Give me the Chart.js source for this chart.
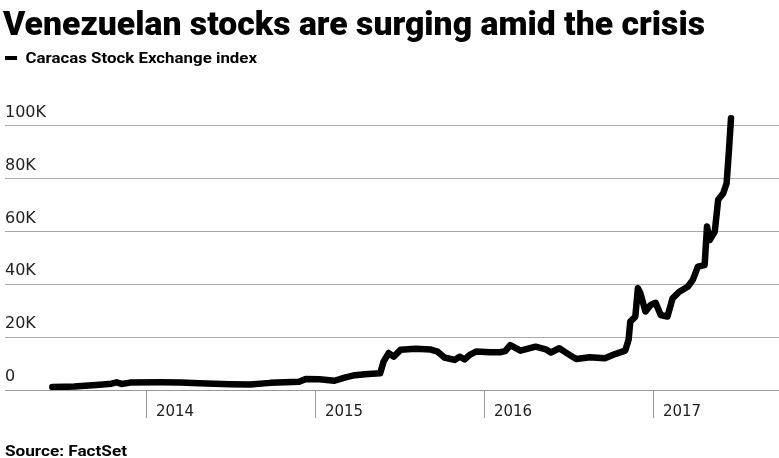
<!DOCTYPE html>
<html>
<head>
<meta charset="utf-8">
<script src="https://cdn.jsdelivr.net/npm/chart.js@4/dist/chart.umd.min.js"></script>
<style>
  html, body { margin: 0; padding: 0; background: #fff; }
  #wrap { position: relative; width: 779px; height: 458px; overflow: hidden; }
  #chart { position: absolute; left: 0; top: 0; }
  .txt { position: absolute; white-space: nowrap; color: #000; transform-origin: 0 50%; }
  #title { left: 3px; top: 3px; font: 900 34px Roboto, "Liberation Sans", sans-serif; line-height: 40px; }
  #legend { left: 5px; top: 49px; font: 700 14px Roboto, "Liberation Sans", sans-serif; line-height: 18px; }
  #legend i { display: inline-block; width: 10px; height: 4px; background: #000; vertical-align: middle; margin-right: 7px; position: relative; top: -1px; }
  #source { left: 5px; top: 442px; font: 700 14px Roboto, "Liberation Sans", sans-serif; line-height: 18px; }
</style>
</head>
<body>
<div id="wrap">
  <canvas id="chart" width="779" height="458"></canvas>
  <div class="txt" id="title">Venezuelan stocks are surging amid the crisis</div>
  <div class="txt" id="legend"><i></i>Caracas Stock Exchange index</div>
  <div class="txt" id="source">Source: FactSet</div>
</div>
<script>
// index level (decimal years)
const dates = [
  2013.44, 2013.57, 2013.72, 2013.79, 2013.82, 2013.85, 2013.90, 2014.08, 2014.20, 2014.31,
  2014.49, 2014.61, 2014.73, 2014.90, 2014.94, 2015.02, 2015.11, 2015.17, 2015.23, 2015.29,
  2015.38, 2015.40, 2015.43, 2015.46, 2015.50, 2015.59, 2015.68, 2015.72, 2015.76, 2015.82,
  2015.85, 2015.88, 2015.91, 2015.95, 2016.03, 2016.09, 2016.12, 2016.15, 2016.21, 2016.30,
  2016.36, 2016.39, 2016.44, 2016.50, 2016.54, 2016.62, 2016.71, 2016.77, 2016.83, 2016.85,
  2016.86, 2016.89, 2016.905, 2016.92, 2016.95, 2016.98, 2017.01, 2017.04, 2017.08, 2017.11,
  2017.15, 2017.20, 2017.23, 2017.26, 2017.30, 2017.314, 2017.33, 2017.36, 2017.38, 2017.41,
  2017.43, 2017.444, 2017.456
];
const values = [
  1100, 1300, 2000, 2400, 2900, 2300, 2800, 2900, 2800, 2600,
  2200, 2100, 2700, 3100, 4200, 4100, 3500, 4700, 5600, 6000,
  6300, 10700, 14000, 12600, 15200, 15600, 15300, 14500, 12300, 11400,
  12600, 11600, 13300, 14600, 14300, 14300, 14700, 17000, 14900, 16400,
  15400, 14200, 15800, 13300, 11700, 12400, 12000, 13600, 14900, 19000,
  25900, 27800, 38500, 36600, 29700, 32200, 33000, 28400, 27800, 34700,
  37200, 39100, 41700, 46700, 47300, 61900, 56800, 60000, 72000, 74500,
  78300, 90900, 102900
];
const yearTicks = [2014, 2015, 2016, 2017];
const valueTicks = [0, 20000, 40000, 60000, 80000, 100000];

const points = dates.map((d, i) => ({ x: d, y: values[i] }));

new Chart(document.getElementById('chart'), {
  type: 'line',
  data: {
    datasets: [{
      label: 'Caracas Stock Exchange index',
      data: points,
      borderColor: '#000',
      borderWidth: 6.5,
      pointRadius: 0,
      tension: 0,
      borderJoinStyle: 'round',
      borderCapStyle: 'round'
    }]
  },
  options: {
    responsive: false,
    animation: false,
    devicePixelRatio: 1,
    layout: { padding: { left: 5, right: 0, top: 110, bottom: 28 } },
    plugins: { legend: { display: false }, title: { display: false }, tooltip: { enabled: false } },
    scales: {
      x: {
        type: 'linear',
        min: 2013.16,
        max: 2017.74,
        afterBuildTicks: s => { s.ticks = yearTicks.map(v => ({ value: v })); },
        // labels sit beside the tick marks, so give the axis room so they are not clipped
        afterFit: s => { s.height = 40; },
        grid: { drawOnChartArea: false, drawTicks: true, tickLength: 28, color: '#999', lineWidth: 1 },
        border: { display: true, color: '#999', width: 1 },
        ticks: {
          align: 'start',
          labelOffset: 9,
          padding: -15,
          maxRotation: 0,
          color: '#222',
          font: { family: '"DejaVu Sans"', size: 15 },
          callback: v => String(v)
        }
      },
      y: {
        min: 0,
        max: 106000,
        afterBuildTicks: s => { s.ticks = valueTicks.map(v => ({ value: v })); },
        grid: { drawTicks: false, color: '#aaa', lineWidth: 1 },
        border: { display: false },
        ticks: {
          mirror: true,
          padding: 0,
          labelOffset: -13,
          color: '#222',
          font: { family: '"DejaVu Sans"', size: 16 },
          callback: v => v === 0 ? '0' : (v / 1000) + 'K'
        }
      }
    }
  }
});

// fit the header texts to the widths seen in the picture
function fit(id, w) {
  const el = document.getElementById(id);
  const r = el.getBoundingClientRect().width;
  el.style.transform = 'scaleX(' + (w / r) + ')';
}
fit('title', 702);
fit('legend', 252);
fit('source', 122);
</script>
</body>
</html>
